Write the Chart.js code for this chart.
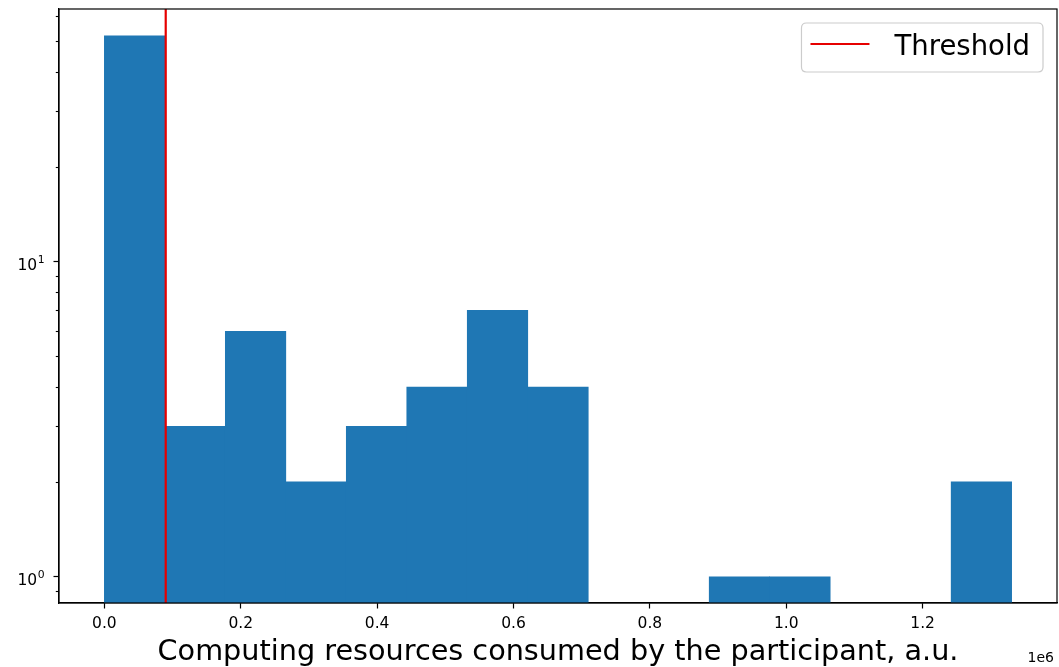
<!DOCTYPE html>
<html>
<head>
<meta charset="utf-8">
<script src="https://cdn.jsdelivr.net/npm/chart.js@4/dist/chart.umd.min.js"></script>
<style>
  html, body { margin: 0; padding: 0; background: #ffffff; }
  #wrap { width: 1059px; height: 667px; }
</style>
</head>
<body>
<div id="wrap"><canvas id="chart" width="1059" height="667"></canvas></div>
<script>
// Histogram bins (edges in a.u.) and participant counts per bin
const binEdges = [0, 88700, 177400, 266100, 354800, 443500, 532200, 620900, 709600,
                  798300, 887000, 975700, 1064400, 1153100, 1241800, 1330500];
const binCounts = [52, 3, 6, 2, 3, 4, 7, 4, 0, 0, 1, 1, 0, 0, 2];

// Threshold marker
const thresholdValue = 90000;
const thresholdLabel = 'Threshold';

// Axis ranges and ticks
const xRange = [-66500, 1397000];
const yRange = [0.826, 63.2];
const xTickValues = [0, 200000, 400000, 600000, 800000, 1000000, 1200000];
const yMajorTicks = [1, 10];
const yMajorExponents = ['0', '1'];
const yMinorTicks = [0.9, 2, 3, 4, 5, 6, 7, 8, 9, 20, 30, 40, 50, 60];
const xAxisTitle = 'Computing resources consumed by the participant, a.u.';
const xOffsetText = '1e6';

const FONT = 'DejaVu Sans';
const BAR_COLOR = '#1f77b4';
const LINE_COLOR = '#e60000';

const barPoints = binCounts.map((c, i) => ({
  x: (binEdges[i] + binEdges[i + 1]) / 2,
  y: c > 0 ? c : null
}));

// Frame around the plot area (all four spines), drawn over the bars
const framePlugin = {
  id: 'frame',
  afterDatasetsDraw(chart) {
    const { ctx, chartArea: a } = chart;
    ctx.save();
    ctx.strokeStyle = '#000';
    ctx.lineWidth = 1.2;
    ctx.strokeRect(a.left, a.top, a.right - a.left, a.bottom - a.top);
    ctx.restore();
  }
};

// Short minor tick marks and power-of-ten labels on the log axis
const logAxisPlugin = {
  id: 'logAxis',
  afterDatasetsDraw(chart) {
    const { ctx } = chart;
    const y = chart.scales.y;
    ctx.save();
    ctx.strokeStyle = '#000';
    ctx.lineWidth = 1.1;
    yMinorTicks.forEach(v => {
      if (v < y.min || v > y.max) return;
      const py = Math.round(y.getPixelForValue(v)) + 0.5;
      ctx.beginPath();
      ctx.moveTo(y.right - 3.2, py);
      ctx.lineTo(y.right, py);
      ctx.stroke();
    });
    ctx.fillStyle = '#000';
    ctx.textBaseline = 'alphabetic';
    ctx.textAlign = 'left';
    yMajorTicks.forEach((v, i) => {
      const py = y.getPixelForValue(v);
      const supFont = '10.8px "' + FONT + '"';
      const baseFont = '15.5px "' + FONT + '"';
      ctx.font = supFont;
      const sw = ctx.measureText(yMajorExponents[i]).width;
      ctx.font = baseFont;
      const bw = ctx.measureText('10').width;
      const xEnd = y.right - 5.5 - 9;
      const x0 = xEnd - sw - bw - 0.5;
      ctx.fillText('10', x0, py + 8.5);
      ctx.font = supFont;
      ctx.fillText(yMajorExponents[i], x0 + bw + 0.5, py + 1.5);
    });
    ctx.restore();
  }
};

// Legend box in the upper right corner of the plot area
const legendBoxPlugin = {
  id: 'legendBox',
  afterDatasetsDraw(chart) {
    const { ctx, chartArea: a } = chart;
    const ds = chart.data.datasets[0];
    ctx.save();
    ctx.font = '27.5px "' + FONT + '"';
    const tw = ctx.measureText(ds.label).width;
    const padL = 9, handle = 59, gap = 25, padR = 13;
    const w = padL + handle + gap + tw + padR;
    const h = 49;
    const right = a.right - 14;
    const left = right - w;
    const top = a.top + 14;
    const r = 5;
    ctx.beginPath();
    ctx.moveTo(left + r, top);
    ctx.lineTo(right - r, top);
    ctx.quadraticCurveTo(right, top, right, top + r);
    ctx.lineTo(right, top + h - r);
    ctx.quadraticCurveTo(right, top + h, right - r, top + h);
    ctx.lineTo(left + r, top + h);
    ctx.quadraticCurveTo(left, top + h, left, top + h - r);
    ctx.lineTo(left, top + r);
    ctx.quadraticCurveTo(left, top, left + r, top);
    ctx.closePath();
    ctx.fillStyle = 'rgba(255,255,255,0.8)';
    ctx.fill();
    ctx.strokeStyle = '#cccccc';
    ctx.lineWidth = 1.2;
    ctx.stroke();
    const cy = top + 21;
    ctx.beginPath();
    ctx.moveTo(left + padL, cy);
    ctx.lineTo(left + padL + handle, cy);
    ctx.strokeStyle = ds.borderColor;
    ctx.lineWidth = ds.borderWidth;
    ctx.stroke();
    ctx.fillStyle = '#000';
    ctx.textBaseline = 'alphabetic';
    ctx.textAlign = 'left';
    ctx.fillText(ds.label, left + padL + handle + gap, top + 31.7);
    ctx.restore();
  }
};

// Scale multiplier shown under the right end of the x axis
const offsetTextPlugin = {
  id: 'offsetText',
  afterDraw(chart) {
    const { ctx, chartArea: a } = chart;
    ctx.save();
    ctx.font = '14px "' + FONT + '"';
    ctx.fillStyle = '#000';
    ctx.textAlign = 'right';
    ctx.textBaseline = 'alphabetic';
    ctx.fillText(xOffsetText, a.right - 3, 662);
    ctx.restore();
  }
};

new Chart(document.getElementById('chart').getContext('2d'), {
  type: 'bar',
  data: {
    datasets: [
      {
        type: 'line',
        label: thresholdLabel,
        data: [{ x: thresholdValue, y: yRange[0] }, { x: thresholdValue, y: yRange[1] }],
        borderColor: LINE_COLOR,
        borderWidth: 2.2,
        pointRadius: 0,
        fill: false,
        order: 0
      },
      {
        type: 'bar',
        label: 'Participants',
        data: barPoints,
        backgroundColor: BAR_COLOR,
        borderWidth: 0,
        barPercentage: 1,
        categoryPercentage: 1,
        order: 1
      }
    ]
  },
  options: {
    responsive: false,
    animation: false,
    devicePixelRatio: 1,
    layout: { padding: { left: 0, top: 9, right: 2, bottom: 0 } },
    plugins: { legend: { display: false }, tooltip: { enabled: false } },
    scales: {
      x: {
        type: 'linear',
        min: xRange[0],
        max: xRange[1],
        offset: false,
        afterBuildTicks: s => { s.ticks = xTickValues.map(v => ({ value: v })); },
        afterFit: s => { s.height = 64; s.paddingLeft = 0; s.paddingRight = 0; },
        grid: { offset: false, drawOnChartArea: false, drawTicks: true, tickLength: 5.5, tickWidth: 1.2, tickColor: '#000' },
        border: { display: true, color: '#000', width: 1.2 },
        ticks: {
          font: { family: FONT, size: 15.5 },
          color: '#000',
          padding: 6,
          maxRotation: 0,
          autoSkip: false,
          callback: v => (v / 1e6).toFixed(1)
        },
        title: {
          display: true,
          text: xAxisTitle,
          font: { family: FONT, size: 28.7, lineHeight: 1.0 },
          color: '#000',
          padding: { top: 0, bottom: 0 }
        }
      },
      y: {
        type: 'logarithmic',
        min: yRange[0],
        max: yRange[1],
        afterBuildTicks: s => {
          s.ticks = yMajorTicks.map(v => ({ value: v, major: true }));
        },
        afterFit: s => { s.width = 59; s.paddingTop = 0; s.paddingBottom = 0; },
        grid: { drawOnChartArea: false, drawTicks: true, tickLength: 5.5, tickWidth: 1.2, tickColor: '#000' },
        border: { display: true, color: '#000', width: 1.2 },
        ticks: {
          font: { family: FONT, size: 15.5 },
          color: '#000',
          padding: 8,
          autoSkip: false,
          callback: () => ''
        }
      }
    }
  },
  plugins: [framePlugin, logAxisPlugin, legendBoxPlugin, offsetTextPlugin]
});
</script>
</body>
</html>
